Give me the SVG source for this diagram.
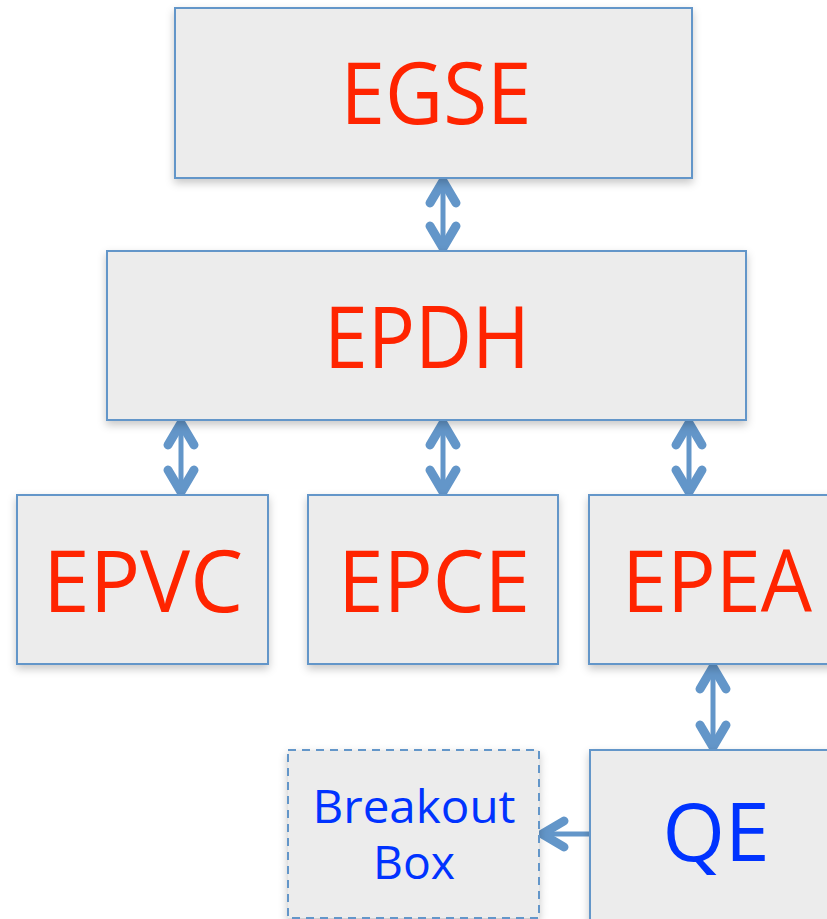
<svg xmlns="http://www.w3.org/2000/svg" width="827" height="919" viewBox="0 0 827 919">
<style>
.box{fill:#ececec;stroke:#6396c9;stroke-width:2;filter:url(#sh)}
.dash{stroke-dasharray:8,6}
.red{fill:#ff2400;font-family:"Open Sans","Liberation Sans",sans-serif;font-size:86px;text-anchor:middle}
.blue{fill:#0033ff;font-family:"Open Sans","Liberation Sans",sans-serif;text-anchor:middle}
.con{stroke:#6396c9;stroke-width:5;fill:none}
</style>
<defs>
<filter id="sh" x="-10%" y="-10%" width="125%" height="130%">
<feDropShadow dx="0" dy="4" stdDeviation="4" flood-color="#000" flood-opacity="0.22"/>
</filter>
<marker id="ah" viewBox="-32 -20 38 40" markerWidth="38" markerHeight="40" refX="0" refY="0" markerUnits="userSpaceOnUse" orient="auto-start-reverse">
<path d="M-24,-13 L-2,0 L-24,13" fill="none" stroke="#6396c9" stroke-width="9" stroke-linecap="round" stroke-linejoin="round"/>
<polygon points="2,0 -12,-8 -12,8" fill="#6396c9"/>
</marker>
</defs>
<g id="connectors">
<line class="con" x1="443" y1="179" x2="443" y2="250" marker-start="url(#ah)" marker-end="url(#ah)"/>
<line class="con" x1="181" y1="421" x2="181" y2="494" marker-start="url(#ah)" marker-end="url(#ah)"/>
<line class="con" x1="443" y1="421" x2="443" y2="494" marker-start="url(#ah)" marker-end="url(#ah)"/>
<line class="con" x1="689" y1="421" x2="689" y2="494" marker-start="url(#ah)" marker-end="url(#ah)"/>
<line class="con" x1="713" y1="665" x2="713" y2="749" marker-start="url(#ah)" marker-end="url(#ah)"/>
<line class="con" x1="590" y1="834" x2="540" y2="834" marker-end="url(#ah)"/>
</g>
<g id="EGSE">
<rect class="box" x="175" y="8" width="517" height="170"/>
<text class="red" x="436" y="124" textLength="191" lengthAdjust="spacingAndGlyphs">EGSE</text>
</g>
<g id="EPDH">
<rect class="box" x="107" y="251" width="639" height="169"/>
<text class="red" x="427" y="368" textLength="206" lengthAdjust="spacingAndGlyphs">EPDH</text>
</g>
<g id="EPVC">
<rect class="box" x="17" y="495" width="251" height="169"/>
<text class="red" x="143" y="612" textLength="200" lengthAdjust="spacingAndGlyphs">EPVC</text>
</g>
<g id="EPCE">
<rect class="box" x="308" y="495" width="250" height="169"/>
<text class="red" x="434" y="612" textLength="192" lengthAdjust="spacingAndGlyphs">EPCE</text>
</g>
<g id="EPEA">
<rect class="box" x="589" y="495" width="250" height="169"/>
<text class="red" x="717" y="612" textLength="190" lengthAdjust="spacingAndGlyphs">EPEA</text>
</g>
<g id="QE">
<rect class="box" x="590" y="750" width="250" height="175"/>
<text class="blue" x="716" y="861" font-size="80" textLength="107" lengthAdjust="spacingAndGlyphs">QE</text>
</g>
<g id="BreakoutBox">
<rect class="box dash" x="288" y="750" width="251" height="168"/>
<text class="blue" x="414" y="823" font-size="46" textLength="203" lengthAdjust="spacingAndGlyphs">Breakout</text>
<text class="blue" x="414" y="879" font-size="46" textLength="82" lengthAdjust="spacingAndGlyphs">Box</text>
</g>
</svg>
